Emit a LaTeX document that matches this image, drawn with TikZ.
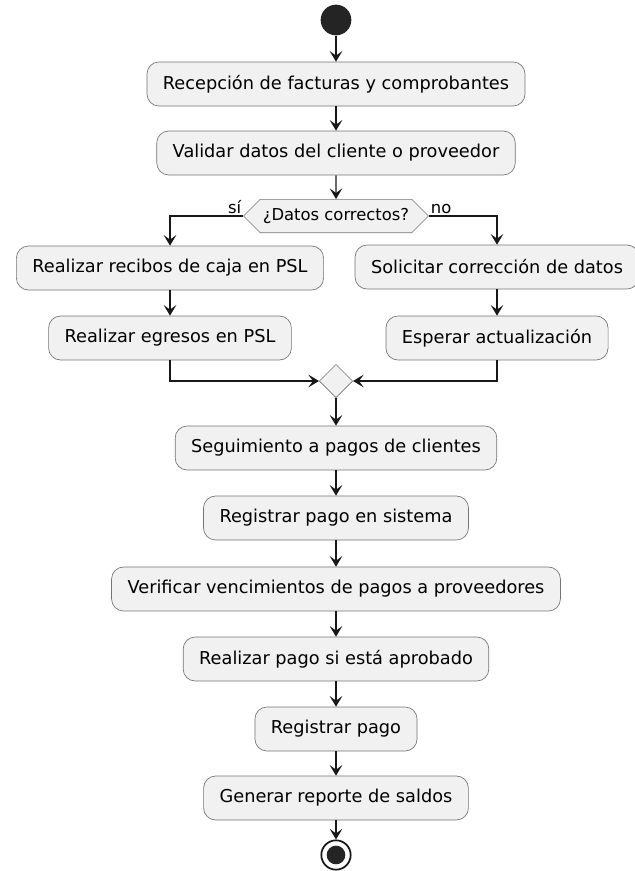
\documentclass[tikz,border=0pt]{standalone}
\usepackage{fontspec}
\setmainfont{DejaVu Sans}
\usetikzlibrary{positioning,arrows.meta,shapes.geometric,shapes.symbols}
\definecolor{actfill}{HTML}{F1F1F1}
\definecolor{actline}{HTML}{181818}

\begin{document}
\begin{tikzpicture}[
  x=0.75pt, y=-0.75pt,
  font=\fontsize{13.3}{16}\selectfont,
  act/.style={draw=actline!60, line width=0.5pt, rounded corners=9pt, fill=actfill, align=center, inner xsep=12pt, minimum height=33pt},
  cond/.style={shape=signal, signal to=east and west, draw=actline!60, line width=0.5pt, fill=actfill, font=\fontsize{12.3}{14}\selectfont, inner xsep=2pt, minimum height=25pt},
  merge/.style={diamond, draw=actline!60, line width=0.5pt, fill=actfill, minimum size=25pt, inner sep=0pt},
  flow/.style={-{Stealth[length=8pt, width=9.5pt, inset=3.5pt]}, line width=0.9pt, draw=actline},
  lab/.style={font=\fontsize{12.3}{14}\selectfont, inner sep=1pt}]

\useasboundingbox (0,0) rectangle (635,871);

\node[circle, fill=actline!95, minimum size=23pt, inner sep=0pt] (start) at (336,20) {};
\node[act] (recep) at (336,84) {Recepción de facturas y comprobantes};
\node[act] (valid) at (336,153) {Validar datos del cliente o proveedor};
\node[cond] (datos) at (336,216) {¿Datos correctos?};
\node[act] (recib) at (170,268) {Realizar recibos de caja en PSL};
\node[act] (egres) at (170,338) {Realizar egresos en PSL};
\node[act] (solic) at (497,267) {Solicitar corrección de datos};
\node[act] (esper) at (497,338) {Esperar actualización};
\node[merge] (junta) at (336,381) {};
\node[act] (segui) at (336,448) {Seguimiento a pagos de clientes};
\node[act] (regsis) at (336,518) {Registrar pago en sistema};
\node[act] (verif) at (336,589) {Verificar vencimientos de pagos a proveedores};
\node[act] (aprob) at (336,659) {Realizar pago si está aprobado};
\node[act] (regpago) at (336,729) {Registrar pago};
\node[act] (report) at (336,798) {Generar reporte de saldos};
\node[circle, draw=actline, line width=1.3pt, fill=white, minimum size=22pt, inner sep=0pt] (stop) at (336,855) {};
\node[circle, fill=actline!95, minimum size=14pt, inner sep=0pt] (stopdot) at (stop) {};

\draw[flow] (start) -- (recep);
\draw[flow] (recep) -- (valid);
\draw[flow] (valid) -- (datos);
\draw[flow] (datos.west) -| (recib.north) node[lab, pos=0, anchor=south east]{sí};
\draw[flow] (datos.east) -| (solic.north) node[lab, pos=0, anchor=south west]{no};
\draw[flow] (recib) -- (egres);
\draw[flow] (solic) -- (esper);
\draw[flow] (egres.south) |- (junta.west);
\draw[flow] (esper.south) |- (junta.east);
\draw[flow] (junta) -- (segui);
\draw[flow] (segui) -- (regsis);
\draw[flow] (regsis) -- (verif);
\draw[flow] (verif) -- (aprob);
\draw[flow] (aprob) -- (regpago);
\draw[flow] (regpago) -- (report);
\draw[flow] (report) -- (stop);
\end{tikzpicture}
\end{document}
